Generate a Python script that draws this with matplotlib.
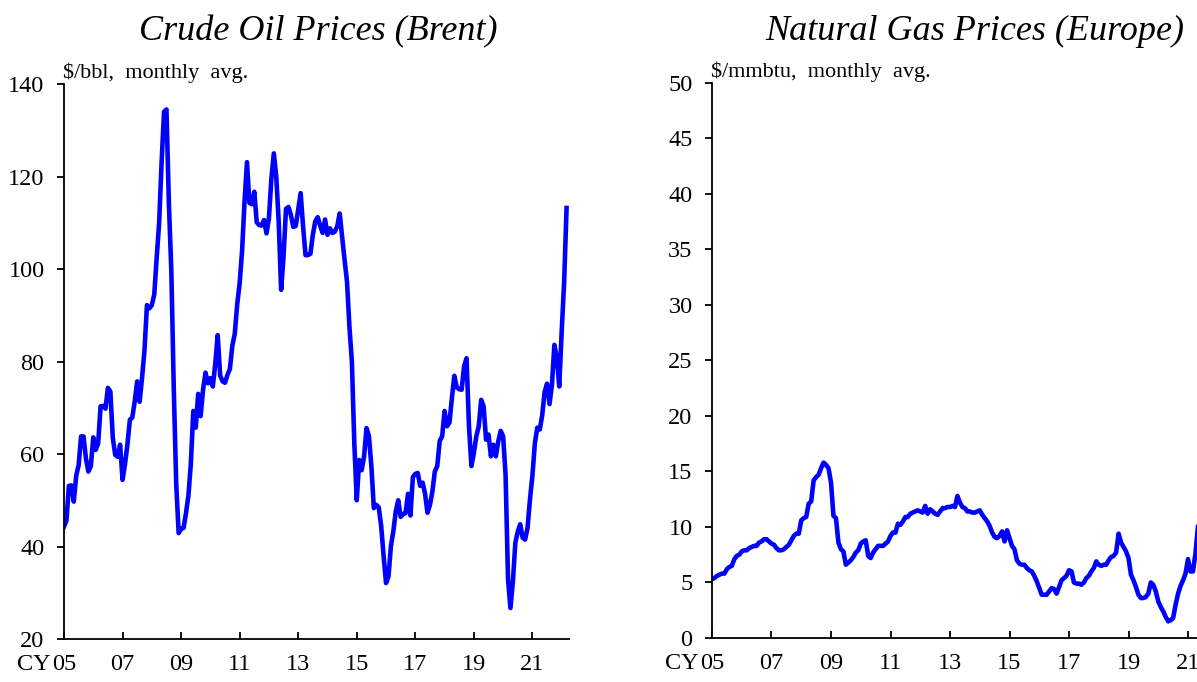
import numpy as np
import matplotlib.pyplot as plt

# Brent crude, $/bbl, monthly average, Jan 2005 - Mar 2022
oil_2005_2009 = [44.3, 45.6, 53.1, 53.2, 49.7, 55.3, 57.6, 63.8, 63.8, 59.0, 56.2, 57.4,
                 63.6, 60.9, 62.3, 70.3, 70.4, 69.8, 74.3, 73.5, 63.5, 59.8, 59.4, 62.0,
                 54.4, 57.8, 62.1, 67.4, 67.9, 71.4, 75.7, 71.3, 76.5, 82.5, 92.2, 91.5,
                 92.2, 94.5, 102.5, 110.0, 123.0, 134.0, 134.5, 114.0, 99.5, 74.0, 53.5, 42.9,
                 43.8, 44.0, 47.2, 51.0, 58.0, 69.3, 65.7, 73.0, 68.2, 73.9, 77.6, 75.3]
oil_2010_2014 = [76.4, 74.6, 79.5, 85.7, 77.0, 75.7, 75.4, 77.1, 78.4, 83.4, 86.0, 92.4,
                 96.9, 104.0, 114.6, 123.1, 114.3, 114.0, 116.7, 110.1, 109.5, 109.4, 110.6, 107.7,
                 111.0, 119.5, 125.0, 120.0, 110.3, 95.5, 102.8, 113.0, 113.4, 111.7, 109.1, 109.3,
                 112.9, 116.4, 109.2, 103.0, 103.0, 103.3, 107.4, 110.3, 111.2, 109.4, 107.8, 110.7,
                 107.4, 108.8, 107.8, 108.1, 109.2, 112.0, 107.0, 102.0, 97.3, 87.5, 80.0, 62.3]
oil_2015_2019 = [50.0, 58.7, 56.5, 59.5, 65.6, 63.8, 57.3, 48.3, 49.0, 48.5, 44.5, 38.0,
                 32.1, 33.5, 40.1, 43.3, 47.6, 50.0, 46.4, 47.0, 47.2, 51.4, 46.7, 55.0,
                 55.7, 55.9, 53.1, 53.8, 51.4, 47.3, 49.0, 51.9, 56.2, 57.4, 62.8, 63.8,
                 69.3, 66.0, 66.8, 72.1, 76.9, 74.4, 74.0, 73.9, 79.0, 80.7, 66.0, 57.4,
                 60.2, 63.8, 66.0, 71.7, 70.3, 63.1, 64.2, 59.5, 62.0, 59.5, 62.7, 65.0]
oil_2020_2022 = [63.8, 55.5, 33.0, 26.7, 32.4, 40.8, 43.2, 44.8, 41.9, 41.5, 44.0, 50.2,
                 55.3, 62.3, 65.7, 65.3, 68.3, 73.4, 75.2, 70.8, 74.9, 83.6, 80.9, 74.6,
                 86.5, 97.1, 113.2]

# Natural gas Europe, $/mmbtu, monthly average, Jan 2005 onward (visible part)
gas_2005_2009 = [5.3, 5.4, 5.6, 5.7, 5.8, 5.8, 6.2, 6.4, 6.5, 7.1, 7.4, 7.5,
                 7.8, 7.9, 7.9, 8.1, 8.2, 8.3, 8.3, 8.6, 8.7, 8.9, 8.9, 8.7,
                 8.5, 8.4, 8.1, 7.9, 7.9, 8.0, 8.2, 8.4, 8.8, 9.2, 9.4, 9.4,
                 10.6, 10.8, 10.9, 12.1, 12.3, 14.2, 14.5, 14.7, 15.3, 15.8, 15.6, 15.3,
                 14.0, 11.0, 10.8, 8.6, 8.0, 7.8, 6.6, 6.8, 7.0, 7.3, 7.7, 7.9]
gas_2010_2014 = [8.5, 8.7, 8.8, 7.4, 7.2, 7.7, 8.0, 8.3, 8.3, 8.3, 8.5, 8.7,
                 9.2, 9.5, 9.5, 10.3, 10.2, 10.5, 10.9, 10.9, 11.2, 11.3, 11.4, 11.5,
                 11.4, 11.3, 11.9, 11.2, 11.6, 11.4, 11.2, 11.1, 11.4, 11.7, 11.7, 11.8,
                 11.8, 11.9, 11.8, 12.8, 12.2, 11.8, 11.7, 11.4, 11.4, 11.3, 11.3, 11.4,
                 11.5, 11.1, 10.8, 10.5, 10.1, 9.5, 9.1, 9.0, 9.2, 9.6, 8.7, 9.7]
gas_2015_2019 = [9.0, 8.3, 8.0, 7.0, 6.7, 6.6, 6.6, 6.3, 6.1, 6.0, 5.6, 5.1,
                 4.5, 3.9, 3.9, 3.9, 4.2, 4.5, 4.4, 4.0, 4.6, 5.2, 5.4, 5.6,
                 6.1, 6.0, 5.0, 4.9, 4.9, 4.8, 5.0, 5.4, 5.6, 6.0, 6.3, 6.9,
                 6.6, 6.5, 6.6, 6.6, 7.0, 7.3, 7.4, 7.7, 9.4, 8.6, 8.2, 7.8,
                 7.2, 5.7, 5.2, 4.6, 3.9, 3.6, 3.6, 3.7, 4.0, 5.0, 4.8, 4.2]
gas_2020_2021 = [3.3, 2.8, 2.4, 1.9, 1.5, 1.6, 1.8, 3.0, 4.0, 4.7, 5.2, 5.8,
                 7.1, 6.0, 6.0, 7.6, 10.0]

oil = np.array(oil_2005_2009 + oil_2010_2014 + oil_2015_2019 + oil_2020_2022)
gas = np.array(gas_2005_2009 + gas_2010_2014 + gas_2015_2019 + gas_2020_2021)
oil_t = 2005 + np.arange(len(oil)) / 12
gas_t = 2005 + np.arange(len(gas)) / 12

tick_years = [2005, 2007, 2009, 2011, 2013, 2015, 2017, 2019, 2021]
tick_labels = ['05', '07', '09', '11', '13', '15', '17', '19', '21']

plt.rcParams['font.family'] = ['Liberation Serif', 'DejaVu Serif']

fig = plt.figure(figsize=(11.97, 6.82), dpi=100)
ax1 = fig.add_axes([0.05347, 0.06305, 0.42189, 0.81378])
ax2 = fig.add_axes([0.59482, 0.06452, 0.42873, 0.81378])


def style_axis(ax, ylim, yticks, unit):
    ax.set_ylim(*ylim)
    ax.set_yticks(yticks)
    ax.set_xlim(2005, 2022.25)
    ax.set_xticks(tick_years)
    ax.set_xticklabels(tick_labels)
    for s in ['top', 'right']:
        ax.spines[s].set_visible(False)
    for s in ['left', 'bottom']:
        ax.spines[s].set_linewidth(1.3)
    ax.tick_params(axis='x', direction='in', length=5, width=1.3, pad=11, labelsize=17.5)
    ax.tick_params(axis='y', direction='out', length=5, width=1.3, pad=9, labelsize=17.5)
    ax.annotate('CY', xy=(2005, 0), xycoords=ax.get_xaxis_transform(),
                xytext=(-9.5, -11), textcoords='offset points',
                ha='right', va='top', fontsize=17.5)
    ax.annotate(unit, xy=(0, 1), xycoords='axes fraction',
                xytext=(-1, 4), textcoords='offset points',
                ha='left', va='baseline', fontsize=16)


ax1.plot(oil_t, oil, color='#0000ff', lw=3.3, solid_joinstyle='round')
style_axis(ax1, (20, 140), np.arange(20, 141, 20), '$/bbl,  monthly  avg.')

ax2.plot(gas_t, gas, color='#0000ff', lw=3.3, solid_joinstyle='round')
style_axis(ax2, (0, 50), np.arange(0, 51, 5), '$/mmbtu,  monthly  avg.')

fig.text(318 / 1197, 1 - 40 / 682, 'Crude Oil Prices (Brent)', ha='center',
         va='baseline', fontsize=26, style='italic')
fig.text(975 / 1197, 1 - 40 / 682, 'Natural Gas Prices (Europe)', ha='center',
         va='baseline', fontsize=26, style='italic')

plt.savefig('out.png', dpi=100)
plt.close()
